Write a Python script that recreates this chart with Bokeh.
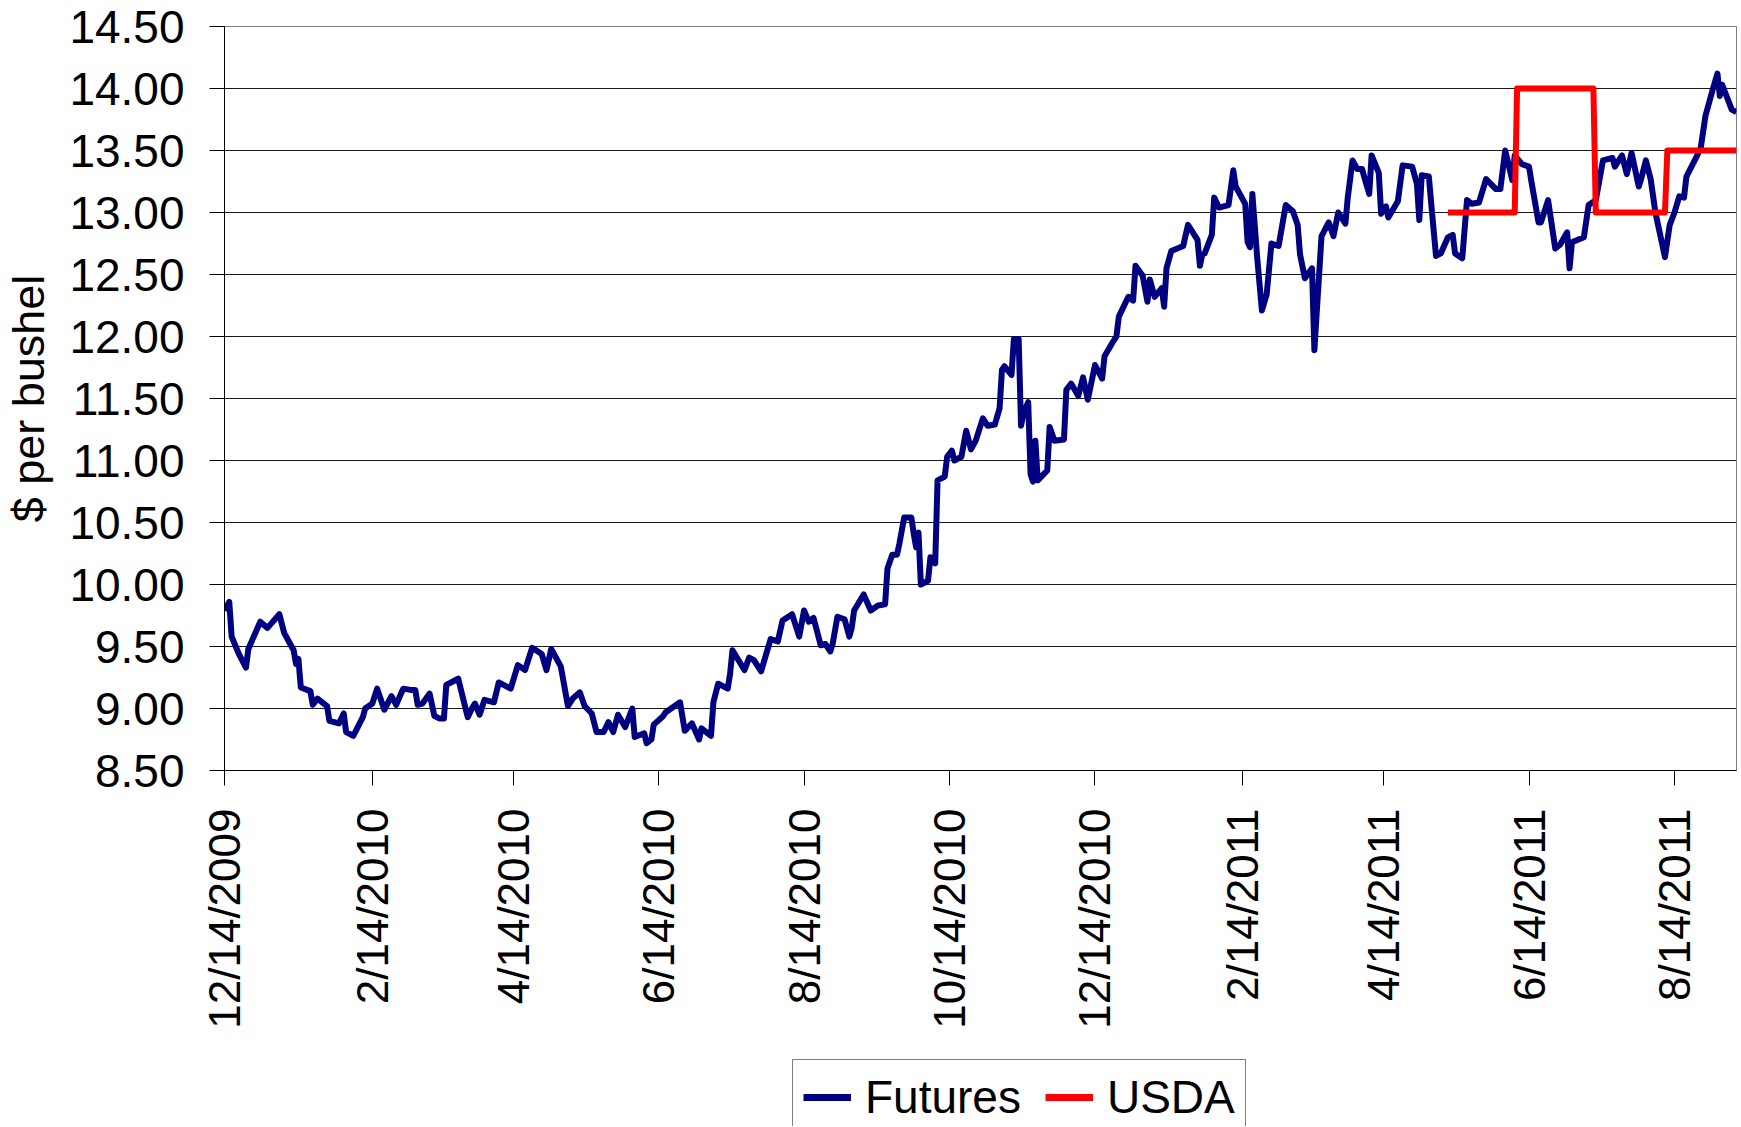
import math
import pandas as pd
from bokeh.plotting import figure
from bokeh.layouts import column
from bokeh.models import Range1d, FixedTicker, NumeralTickFormatter, Legend, LegendItem
from bokeh.embed import file_html
from bokeh.resources import INLINE

# ---------------- data ----------------
start_date = "12/14/2009"
end_date = "9/9/2011"

x_tick_labels = ["12/14/2009", "2/14/2010", "4/14/2010", "6/14/2010", "8/14/2010",
                 "10/14/2010", "12/14/2010", "2/14/2011", "4/14/2011", "6/14/2011",
                 "8/14/2011"]
y_tick_values = [8.5, 9.0, 9.5, 10.0, 10.5, 11.0, 11.5, 12.0, 12.5, 13.0, 13.5, 14.0, 14.5]

# Futures: days since 12/14/2009 and price ($ per bushel)
futures_day = [0, 2, 3, 6, 9, 10, 15, 18, 23, 25, 29, 30, 31, 32, 36, 37, 39, 43, 44, 48,
               50, 51, 54, 58, 59, 62, 64, 67, 70, 72, 74, 75, 78, 80, 81, 83, 86, 88, 90, 92,
               93, 98, 102, 104, 105, 107, 109, 113, 115, 120, 123, 126, 129, 133, 135, 137, 141, 144, 146, 149,
               151, 154, 156, 159, 161, 163, 165, 168, 171, 172, 176, 177, 179, 180, 184, 185, 191, 193, 196, 199,
               200, 204, 205, 207, 211, 212, 213, 218, 220, 222, 225, 227, 229, 232, 234, 238, 241, 243, 245, 247,
               250, 252, 254, 255, 257, 260, 262, 263, 264, 268, 271, 274, 277, 278, 280, 282, 283, 285, 288, 289,
               290, 291, 292, 295, 296, 298, 299, 302, 303, 305, 306, 309, 311, 313, 315, 318, 320, 323, 325, 326,
               327, 330, 331, 333, 334, 335, 337, 338, 339, 340, 341, 345, 346, 348, 352, 353, 355, 358, 360, 362,
               365, 368, 369, 372, 374, 375, 379, 381, 382, 385, 387, 388, 390, 393, 394, 395, 397, 402, 404, 408,
               409, 410, 411, 414, 415, 417, 421, 423, 424, 428, 429, 430, 431, 433, 435, 437, 439, 442, 445, 448,
               450, 451, 453, 456, 457, 460, 463, 465, 467, 470, 471, 473, 475, 477, 478, 480, 481, 484, 485, 487,
               488, 492, 494, 498, 500, 501, 502, 505, 506, 508, 510, 513, 515, 516, 519, 521, 523, 526, 529, 533,
               535, 537, 540, 541, 544, 547, 548, 551, 552, 555, 558, 560, 563, 564, 565, 570, 572, 575, 578, 582,
               583, 586, 588, 590, 593, 594, 596, 598, 600, 604, 606, 608, 610, 612, 613, 617, 619, 621, 624, 626,
               627, 628, 632, 634]
futures_price = [9.79, 9.86, 9.58, 9.44, 9.33, 9.48, 9.70, 9.65, 9.76, 9.61, 9.47, 9.36, 9.40, 9.17, 9.14, 9.03, 9.08, 9.02, 8.90, 8.88,
                 8.96, 8.81, 8.78, 8.93, 9.00, 9.04, 9.16, 8.99, 9.10, 9.03, 9.12, 9.16, 9.15, 9.15, 9.03, 9.04, 9.12, 8.94, 8.92, 8.92,
                 9.19, 9.24, 8.93, 9.01, 9.04, 8.95, 9.07, 9.05, 9.21, 9.16, 9.35, 9.31, 9.49, 9.44, 9.31, 9.48, 9.34, 9.02, 9.08, 9.13,
                 9.02, 8.96, 8.81, 8.81, 8.89, 8.81, 8.95, 8.85, 9.00, 8.77, 8.80, 8.72, 8.75, 8.87, 8.94, 8.97, 9.05, 8.82, 8.88, 8.75,
                 8.84, 8.78, 9.05, 9.20, 9.16, 9.28, 9.47, 9.31, 9.41, 9.39, 9.30, 9.43, 9.56, 9.54, 9.71, 9.76, 9.58, 9.79, 9.70, 9.73,
                 9.51, 9.52, 9.46, 9.52, 9.74, 9.72, 9.58, 9.65, 9.79, 9.92, 9.79, 9.83, 9.84, 10.13, 10.24, 10.24, 10.33, 10.54, 10.54, 10.41,
                 10.30, 10.42, 10.00, 10.03, 10.22, 10.17, 10.84, 10.87, 11.03, 11.08, 11.00, 11.03, 11.24, 11.09, 11.16, 11.34, 11.28, 11.29, 11.42, 11.73,
                 11.76, 11.69, 11.98, 11.98, 11.28, 11.38, 11.47, 10.89, 10.83, 11.16, 10.84, 10.92, 11.27, 11.16, 11.17, 11.57, 11.62, 11.52, 11.67, 11.49,
                 11.77, 11.66, 11.84, 11.94, 12.00, 12.16, 12.32, 12.29, 12.57, 12.49, 12.28, 12.46, 12.32, 12.39, 12.24, 12.55, 12.69, 12.73, 12.90, 12.78,
                 12.57, 12.66, 12.67, 12.82, 13.12, 13.04, 13.06, 13.34, 13.21, 13.07, 12.76, 12.72, 13.15, 12.64, 12.21, 12.34, 12.75, 12.73, 13.06, 13.01,
                 12.90, 12.66, 12.47, 12.55, 11.89, 12.81, 12.92, 12.81, 13.00, 12.91, 13.12, 13.42, 13.35, 13.35, 13.28, 13.15, 13.46, 13.32, 12.99, 13.05,
                 12.96, 13.09, 13.38, 13.37, 13.23, 12.94, 13.30, 13.29, 13.07, 12.65, 12.67, 12.80, 12.82, 12.67, 12.63, 13.10, 13.07, 13.08, 13.27, 13.19,
                 13.19, 13.50, 13.26, 13.46, 13.39, 13.37, 13.25, 12.92, 12.92, 13.10, 12.71, 12.74, 12.84, 12.55, 12.76, 12.80, 13.06, 13.10, 13.42, 13.44,
                 13.37, 13.46, 13.31, 13.48, 13.21, 13.27, 13.42, 13.27, 13.00, 12.64, 12.90, 13.00, 13.13, 13.12, 13.29, 13.44, 13.52, 13.78, 13.99, 14.12,
                 13.94, 14.03, 13.83, 13.81]

# USDA season-average price estimate (step line)
usda_dates = ["5/11/2011", "6/8/2011", "6/9/2011", "7/11/2011", "7/12/2011",
              "8/10/2011", "8/11/2011", "9/9/2011"]
usda_values = [13.00, 13.00, 14.00, 14.00, 13.00, 13.00, 13.50, 13.50]

series_names = ["Futures", "USDA"]
series_colors = ["#000080", "#ff0000"]
y_axis_title = "$ per bushel"

# ---------------- helpers ----------------
t0 = pd.to_datetime(start_date, format="%m/%d/%Y")
def day_of(s):
    return int((pd.to_datetime(s, format="%m/%d/%Y") - t0).days)

tick_days = [day_of(s) for s in x_tick_labels]
usda_day = [day_of(s) for s in usda_dates]
x_last = day_of(end_date)

FONT = "Liberation Sans"
W = 1740

p = figure(width=W, height=1040, output_backend="svg", toolbar_location=None,
           x_range=Range1d(0, x_last), y_range=Range1d(y_tick_values[0], y_tick_values[-1]),
           min_border_left=222, min_border_right=4, min_border_top=26, min_border_bottom=270,
           background_fill_color="white", border_fill_color="white")

p.outline_line_color = "#808080"
p.outline_line_width = 1

p.xgrid.visible = False
p.ygrid.grid_line_color = "black"
p.ygrid.grid_line_width = 1
p.ygrid.grid_line_alpha = 0.9

# y axis
p.yaxis.ticker = FixedTicker(ticks=y_tick_values)
p.yaxis.formatter = NumeralTickFormatter(format="0.00")
p.yaxis.axis_label = y_axis_title
p.yaxis.axis_label_text_font = FONT
p.yaxis.axis_label_text_font_size = "45px"
p.yaxis.axis_label_text_font_style = "normal"
p.yaxis.axis_label_text_color = "black"
p.yaxis.axis_label_standoff = 12
p.yaxis.major_label_standoff = 25
p.yaxis.major_label_text_font_size = "46px"

# x axis
p.xaxis.ticker = FixedTicker(ticks=tick_days)
p.xaxis.major_label_overrides = dict(zip(tick_days, x_tick_labels))
p.xaxis.major_label_orientation = math.pi / 2
p.xaxis.major_label_standoff = 23
p.xaxis.major_label_text_font_size = "44px"

for ax in (p.xaxis[0], p.yaxis[0]):
    ax.major_label_text_font = FONT
    ax.major_label_text_color = "black"
    ax.axis_line_color = "black"
    ax.axis_line_width = 1
    ax.major_tick_line_color = "black"
    ax.major_tick_in = 0
    ax.major_tick_out = 15
    ax.minor_tick_line_color = None

p.line(futures_day, futures_price, line_color=series_colors[0], line_width=6, line_join="round")
p.line(usda_day, usda_values, line_color=series_colors[1], line_width=6, line_join="round")

# ---------------- legend strip below the chart ----------------
# (the series are re-plotted here only so that the legend has glyphs; they fall
#  outside this strip's ranges and are not visible)
q = figure(width=W, height=86, output_backend="svg", toolbar_location=None,
           x_range=Range1d(-2, -1), y_range=Range1d(-2, -1),
           min_border=0, min_border_left=0, min_border_right=0, min_border_top=0, min_border_bottom=0,
           background_fill_color="white", border_fill_color="white")
q.axis.visible = False
q.grid.visible = False
q.outline_line_color = None

leg_fut = q.line(futures_day, futures_price, line_color=series_colors[0], line_width=7)
leg_usda = q.line(usda_day, usda_values, line_color=series_colors[1], line_width=7)

legend = Legend(items=[LegendItem(label=series_names[0], renderers=[leg_fut]),
                       LegendItem(label=series_names[1], renderers=[leg_usda])],
                location=(568, -9), orientation="horizontal",
                label_text_font=FONT, label_text_font_size="46px", label_text_color="black",
                glyph_width=48, glyph_height=30, label_standoff=14, spacing=24,
                padding=10, margin=0,
                border_line_color="black", border_line_width=1,
                background_fill_color="white", background_fill_alpha=1.0)
q.add_layout(legend)

layout = column(p, q, spacing=0)
open("out.html", "w").write(file_html(layout, INLINE))
